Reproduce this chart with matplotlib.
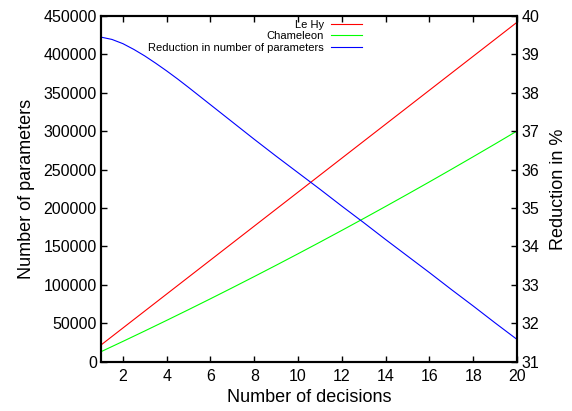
import matplotlib
matplotlib.use("Agg")
import matplotlib.pyplot as plt

plt.rcParams['font.family'] = ['Liberation Sans', 'DejaVu Sans']

decisions = list(range(1, 21))
le_hy = [21740, 43850, 65960, 88070, 110180, 132290, 154400, 176510, 198620, 220730,
         242840, 264950, 287060, 309170, 331280, 353390, 375500, 397610, 419720, 441830]
chameleon = [13020, 26420, 40010, 53800, 67770, 81930, 96290, 110840, 125570, 140500,
             155620, 170930, 186430, 202130, 218010, 234080, 250350, 266810, 283450, 300290]

reduction_x = [1, 1.5, 2, 2.5, 3, 3.5, 4, 4.5, 5, 6, 7, 8, 9, 10,
               11, 12, 13, 14, 15, 16, 17, 18, 19, 20]
reduction = [39.45, 39.39, 39.28, 39.13, 38.96, 38.77, 38.57, 38.36, 38.14, 37.69,
             37.24, 36.79, 36.35, 35.92, 35.49, 35.05, 34.62, 34.18, 33.75, 33.32,
             32.88, 32.45, 32.01, 31.58]

x_ticks = list(range(2, 21, 2))
left_ticks = list(range(0, 450001, 50000))
right_ticks = list(range(31, 41))

fig = plt.figure(figsize=(5.72, 4.11), dpi=100)
ax = fig.add_axes([101/572, 1 - 361.7/411, (517 - 101)/572, (361.7 - 16)/411])
ax2 = ax.twinx()

l1, = ax.plot(decisions, le_hy, color='#ff0000', lw=0.8, label='Le Hy')
l2, = ax.plot(decisions, chameleon, color='#00ff00', lw=0.8, label='Chameleon')
l3, = ax2.plot(reduction_x, reduction, color='#0000ff', lw=0.8,
               label='Reduction in number of parameters')

ax.set_xlim(1, 20)
ax.set_ylim(0, 450000)
ax2.set_ylim(31, 40)
ax.set_xticks(x_ticks)
ax.set_yticks(left_ticks)
ax2.set_yticks(right_ticks)

for a in (ax, ax2):
    for s in a.spines.values():
        s.set_linewidth(1.5)
ax.tick_params(axis='x', direction='in', length=4, width=1, top=True, labelsize=11.5, pad=5)
ax.tick_params(axis='y', direction='in', length=4, width=1, labelsize=11.5, pad=3)
ax2.tick_params(axis='y', direction='in', length=4, width=1, labelsize=11.5, pad=3)

ax.set_xlabel('Number of decisions', fontsize=13, labelpad=4)
ax.set_ylabel('Number of parameters', fontsize=13, labelpad=6)
ax2.set_ylabel('Reduction in %', fontsize=13, labelpad=8)

fig.legend(handles=[l1, l2, l3], loc='upper right',
           bbox_to_anchor=(362/572, 1 - 20/411), bbox_transform=fig.transFigure,
           frameon=False, markerfirst=False, alignment='right', fontsize=8,
           labelspacing=0.12, handlelength=2.8, handletextpad=0.6,
           borderpad=0, borderaxespad=0)

fig.savefig('out.png', dpi=100)
